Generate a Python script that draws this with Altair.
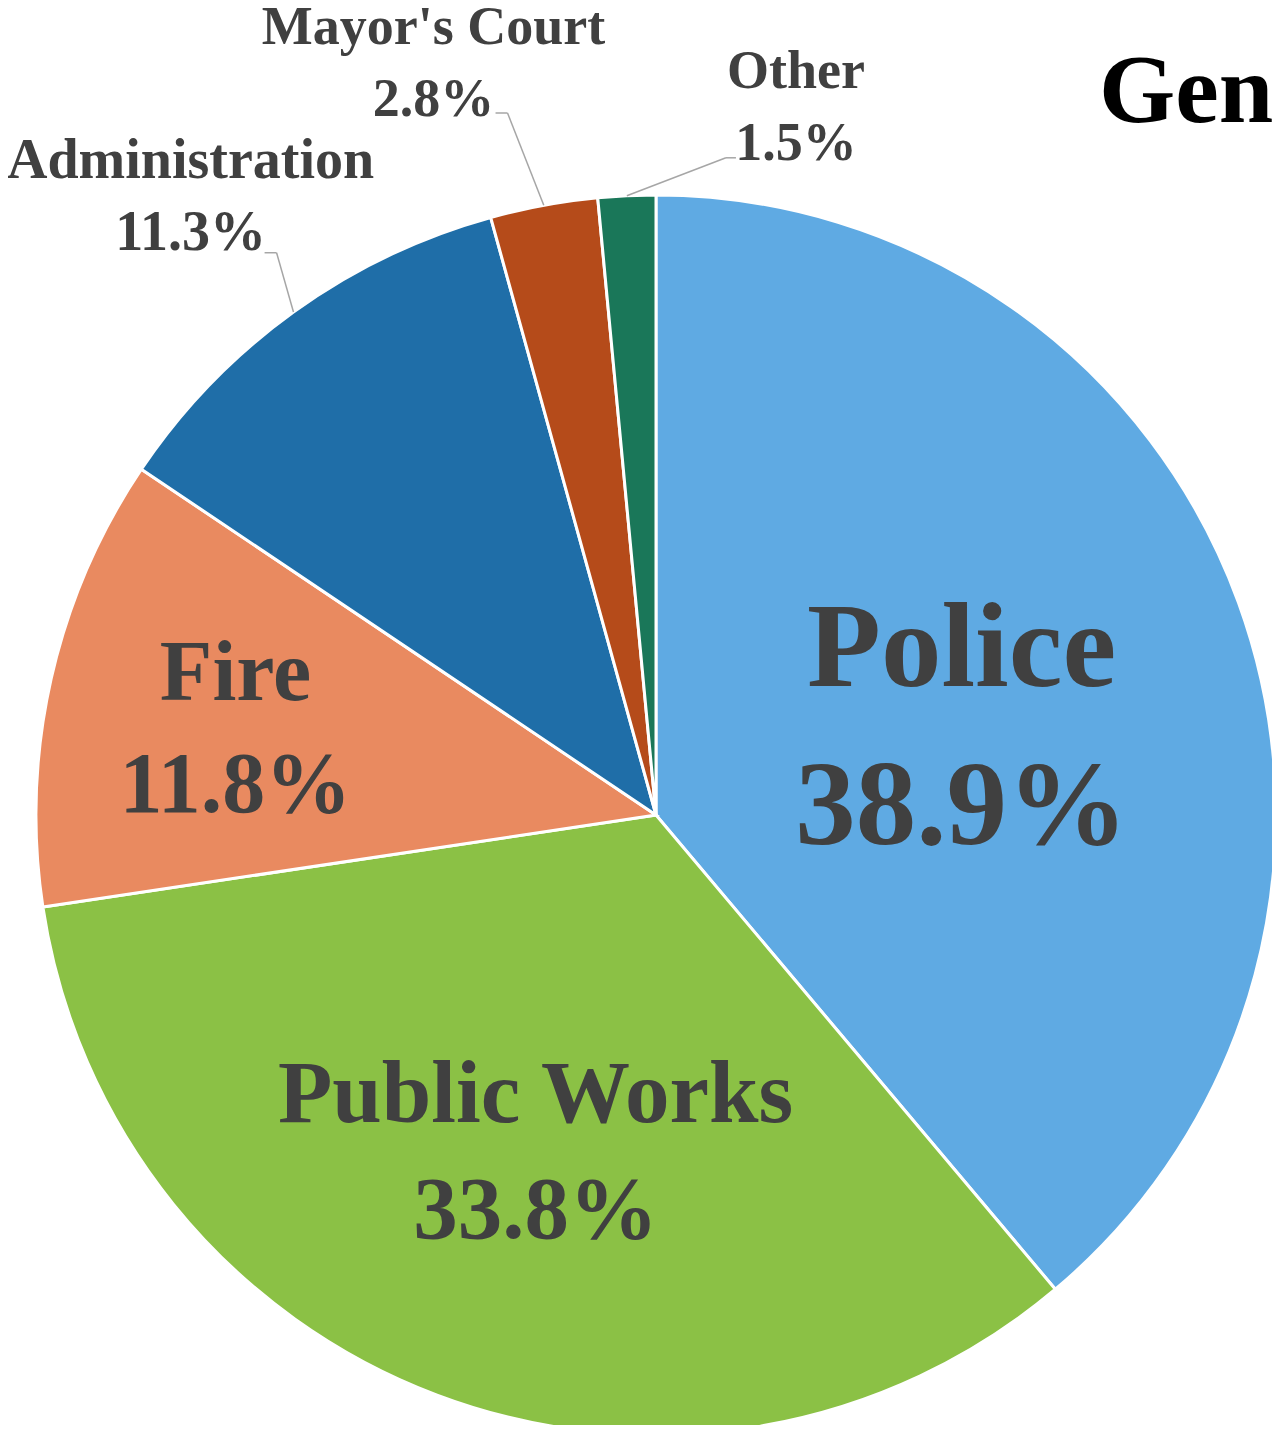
import json
import altair as alt
import pandas as pd

# ---- data ----
categories = ["Police", "Public Works", "Fire", "Administration", "Mayor's Court", "Other"]
shares = [38.9, 33.8, 11.8, 11.3, 2.8, 1.5]
colors = ["#5FAAE3", "#8BC145", "#E98A60", "#1F6EA8", "#B54B1A", "#1A7759"]
title_text = "Gen"

df = pd.DataFrame({"cat": categories, "value": shares, "idx": list(range(len(categories)))})

# ---- layout ----
W, H = 1264, 1417
CX, CY = 648, 807
R = 620
FONT = "Liberation Serif"
GRAY = "#404040"
LEADER = "#A6A6A6"

base = alt.Chart(df).encode(
    theta=alt.Theta("value:Q", stack=True),
    order=alt.Order("idx:Q", sort="ascending"),
    x=alt.value(CX),
    y=alt.value(CY),
)

pie = base.mark_arc(outerRadius=R, stroke="white", strokeWidth=3).encode(
    color=alt.Color("cat:N", scale=alt.Scale(domain=categories, range=colors), legend=None)
)


def label_layer(name, radius, size, line_height, dx, dy):
    expr = (f"datum.cat === {json.dumps(name)} ? "
            "datum.cat + '\\n' + format(datum.value, '.1f') + '%' : ''")
    return base.transform_calculate(lbl=expr).mark_text(
        radius=radius, fontSize=size, font=FONT, fontWeight="bold", color=GRAY,
        lineBreak="\n", lineHeight=line_height, align="center", baseline="middle",
        dx=dx, dy=dy,
    ).encode(text="lbl:N")


def leader_layers(name, radius, dx, dy, bdx, bdy, edx):
    t = (
        alt.Chart(df)
        .transform_joinaggregate(total="sum(value)")
        .transform_window(cum="sum(value)", sort=[alt.SortField("idx")], frame=[None, 0])
        .transform_calculate(mid="2*PI*(datum.cum - datum.value/2)/datum.total")
        .transform_filter(alt.datum.cat == name)
        .transform_calculate(sx=f"{CX} + {R}*sin(datum.mid)")
        .transform_calculate(sy=f"{CY} - {R}*cos(datum.mid)")
        .transform_calculate(bx=f"{CX} + {radius}*sin(datum.mid) + {dx + bdx}")
        .transform_calculate(by=f"{CY} - {radius}*cos(datum.mid) + {dy + bdy}")
        .transform_calculate(ex=f"datum.bx + {edx}")
    )
    seg1 = t.mark_rule(color=LEADER, strokeWidth=1.5).encode(
        x=alt.X("sx:Q", scale=None, axis=None), y=alt.Y("sy:Q", scale=None, axis=None),
        x2="bx:Q", y2="by:Q",
    )
    seg2 = t.mark_rule(color=LEADER, strokeWidth=1.5).encode(
        x=alt.X("bx:Q", scale=None, axis=None), y=alt.Y("by:Q", scale=None, axis=None),
        x2="ex:Q", y2="by:Q",
    )
    return [seg1, seg2]


labels = [
    label_layer("Police", 320, 121, 158, 5, -55),
    label_layer("Public Works", 358, 89, 116, 6, -55),
    label_layer("Fire", 430, 86, 112, -1, -47),
    label_layer("Administration", 772, 56, 72, -14, -28),
    label_layer("Mayor's Court", 787, 54, 72, -80, -13),
    label_layer("Other", 724, 54, 72, 174, -20),
]

leaders = (
    leader_layers("Administration", 772, -14, 11, 86, 53, -12)
    + leader_layers("Mayor's Court", 787, -80, 19, 74, 53, -12)
    + leader_layers("Other", 724, 174, 13, -70, 53, 10)
)

title = alt.Chart(pd.DataFrame({"t": [title_text]})).mark_text(
    font=FONT, fontWeight="bold", fontSize=98, color="black", align="left", baseline="alphabetic"
).encode(text="t:N", x=alt.value(1091), y=alt.value(114))

chart = alt.layer(pie, *leaders, *labels, title).properties(
    width=W, height=H, padding=0, autosize=alt.AutoSizeParams(type="none")
).configure_view(stroke=None)

chart.save("out.html", embed_options={"renderer": "svg", "actions": False})
